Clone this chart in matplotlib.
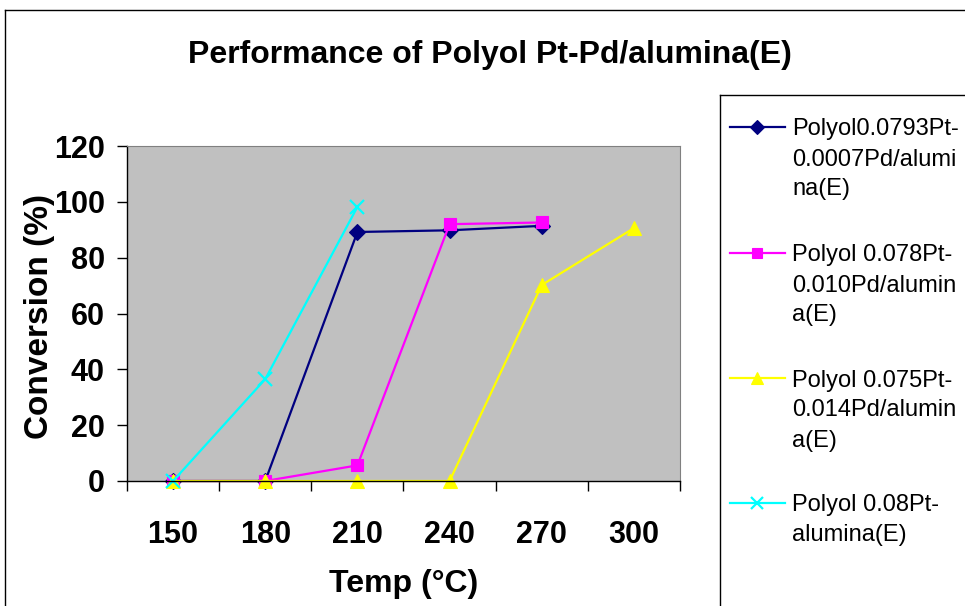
import matplotlib
matplotlib.use("Agg")
import matplotlib.pyplot as plt
from matplotlib.lines import Line2D
from matplotlib.ticker import FixedLocator, NullFormatter
import numpy as np

# Reaction temperatures (°C) and conversion (%) for each catalyst
temps = ["150", "180", "210", "240", "270", "300"]
conv_pt0793_pd0007 = [0, 0, 89.2, 89.8, 91.4]
conv_pt078_pd010 = [0, 0, 5.6, 92.0, 92.6]
conv_pt075_pd014 = [0, 0, 0, 0, 70.2, 90.6]
conv_pt08 = [0, 36.5, 98.2]

series_labels = [
    "Polyol0.0793Pt-\n0.0007Pd/alumi\nna(E)",
    "Polyol 0.078Pt-\n0.010Pd/alumin\na(E)",
    "Polyol 0.075Pt-\n0.014Pd/alumin\na(E)",
    "Polyol 0.08Pt-\nalumina(E)",
]
series_values = [conv_pt0793_pd0007, conv_pt078_pd010, conv_pt075_pd014, conv_pt08]
series_colors = ["#000080", "#FF00FF", "#FFFF00", "#00FFFF"]
series_markers = ["D", "s", "^", "x"]
series_msize = [8, 8.5, 10, 10]

W, H = 965, 606
fig = plt.figure(figsize=(W / 100, H / 100), dpi=100)
fig.patch.set_facecolor("white")

bold = dict(family=["Liberation Sans", "DejaVu Sans"], weight="bold")
regular = dict(family=["Liberation Sans", "DejaVu Sans"])


def fx(px):
    return px / W


def fy(py):
    return 1 - py / H


def fig_line(xs, ys, **kw):
    fig.add_artist(Line2D([fx(v) for v in xs], [fy(v) for v in ys], transform=fig.transFigure, **kw))


# outer chart border (runs off the right and bottom edges)
fig_line([5, 5], [H, 10], color="black", lw=1)
fig_line([5, W], [10, 10], color="black", lw=1)

ax = fig.add_axes([fx(127), fy(481), (680 - 127) / W, (481 - 146) / H])
ax.set_facecolor("#C0C0C0")

x = np.arange(len(temps))
for vals, col, mk, ms in zip(series_values, series_colors, series_markers, series_msize):
    ax.plot(x[:len(vals)], vals, color=col, lw=1.6, marker=mk, markersize=ms,
            markeredgewidth=1.6 if mk == "x" else 0.8, markeredgecolor=col, markerfacecolor=col,
            clip_on=False)

ax.set_xlim(-0.5, len(temps) - 0.5)
ax.set_ylim(0, 120)
ax.set_yticks(np.arange(0, 121, 20))
ax.set_xticks(x)
ax.set_xticklabels(temps)
ax.xaxis.set_minor_locator(FixedLocator(np.arange(-0.5, len(temps), 1)))
ax.xaxis.set_minor_formatter(NullFormatter())
ax.tick_params(axis="x", which="major", length=0, pad=28)
ax.tick_params(axis="x", which="minor", length=7, width=1, direction="out")
ax.tick_params(axis="y", which="major", length=7, width=1, direction="out", pad=9)
for t in ax.get_xticklabels() + ax.get_yticklabels():
    t.set_fontfamily(bold["family"])
    t.set_fontweight("bold")
    t.set_fontsize(22)

for s in ["top", "right"]:
    ax.spines[s].set_color("#808080")
for s in ["left", "bottom"]:
    ax.spines[s].set_color("black")
    ax.spines[s].set_linewidth(1)

ax.set_xlabel("Temp (°C)", fontsize=23, **bold)
ax.set_ylabel("Conversion (%)", fontsize=24, **bold)
ax.xaxis.set_label_coords(0.5, -0.262)
ax.yaxis.set_label_coords(-0.13, 0.49)

fig.text(fx(490), fy(55), "Performance of Polyol Pt-Pd/alumina(E)", ha="center", va="center",
         fontsize=23, **bold)

# legend box (runs off the right and bottom edges)
fig_line([720, 720], [H, 95], color="black", lw=1)
fig_line([720, W], [95, 95], color="black", lw=1)

entry_top = [127, 253, 378, 503]
line_gap = 30
for y0, lab, col, mk, ms in zip(entry_top, series_labels, series_colors, series_markers, series_msize):
    fig_line([730, 785], [y0, y0], color=col, lw=1.6)
    fig.add_artist(Line2D([fx(757)], [fy(y0)], transform=fig.transFigure, marker=mk, markersize=ms * 0.9,
                          color=col, markeredgecolor=col, markerfacecolor=col,
                          markeredgewidth=1.6 if mk == "x" else 0.8, linestyle="none"))
    for i, part in enumerate(lab.split("\n")):
        fig.text(fx(792), fy(y0 + i * line_gap), part, ha="left", va="center_baseline",
                 fontsize=17, **regular)

fig.savefig("out.png", dpi=100)
